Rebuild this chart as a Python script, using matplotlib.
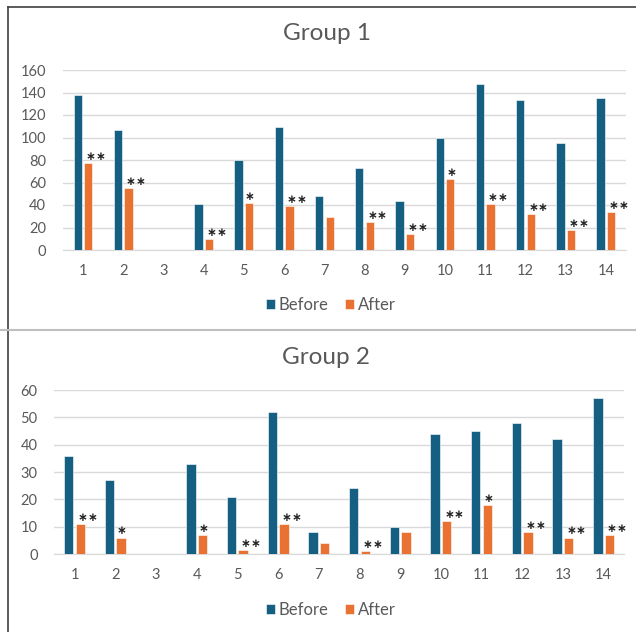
import matplotlib
matplotlib.use('Agg')
import matplotlib.pyplot as plt
import numpy as np

plt.rcParams['font.family'] = ['Lato', 'DejaVu Sans']

CATEGORIES = [str(i) for i in range(1, 15)]

# Group 1
G1_BEFORE = [138, 107, 0, 41, 80, 109, 48, 73, 44, 100, 148, 133, 95, 135]
G1_AFTER  = [77, 55, 0, 10, 42, 39, 29, 25, 14, 63, 41, 32, 18, 34]
G1_SIG    = ['**', '**', '', '**', '*', '**', '', '**', '**', '*', '**', '**', '**', '**']

# Group 2
G2_BEFORE = [36, 27, 0, 33, 21, 52, 8, 24, 10, 44, 45, 48, 42, 57]
G2_AFTER  = [11, 6, 0, 7, 1.5, 11, 4, 1, 8, 12, 18, 8, 6, 7]
G2_SIG    = ['**', '*', '', '*', '**', '**', '', '**', '', '**', '*', '**', '**', '**']

BLUE = '#156082'
ORANGE = '#E97132'
GRID = '#D9D9D9'
TXT = '#595959'

W, H = 636, 632
fig = plt.figure(figsize=(W / 100, H / 100), dpi=100)


def draw_group(rect, title, title_xy, legend_y, before, after, sig, ymax, ystep,
               bw, off, star_off):
    ax = fig.add_axes(rect)
    x = np.arange(len(CATEGORIES))
    ax.bar(x - off, before, bw, color=BLUE, label='Before', zorder=3,
           edgecolor='white', linewidth=0.4)
    ax.bar(x + off, after, bw, color=ORANGE, label='After', zorder=3,
           edgecolor='white', linewidth=0.4)
    # significance stars, one text per star
    for xi, val, s in zip(x, after, sig):
        if s == '**':
            dxs = [0.06, 0.30]
        elif s == '*':
            dxs = [0.02]
        else:
            dxs = []
        for dx in dxs:
            ax.text(xi + off + dx, val + star_off, '\u2217', ha='center', va='center',
                    fontsize=8.5, fontweight='bold', color='#262626',
                    family='DejaVu Sans', zorder=4)
    ax.set_xlim(-0.5, len(CATEGORIES) - 0.5)
    ax.set_ylim(0, ymax)
    ax.set_yticks(np.arange(0, ymax + 1, ystep))
    ax.set_xticks(x)
    ax.set_xticklabels(CATEGORIES)
    ax.grid(axis='y', color=GRID, linewidth=1, zorder=0)
    for sp in ['top', 'right', 'left']:
        ax.spines[sp].set_visible(False)
    ax.spines['bottom'].set_color(GRID)
    ax.tick_params(length=0, colors=TXT, labelsize=10.5)
    ax.tick_params(axis='x', pad=10)
    ax.tick_params(axis='y', pad=12)
    fig.text(title_xy[0], title_xy[1], title, ha='center', va='center',
             fontsize=17.5, color=TXT)
    ax.legend(loc='center', bbox_to_anchor=(331 / W, legend_y), bbox_transform=fig.transFigure,
              ncol=2, frameon=False, fontsize=12, handlelength=0.5, handleheight=0.5,
              handletextpad=0.25, columnspacing=1.0, labelcolor=TXT)
    return ax


draw_group([62.9 / W, 1 - 250 / H, 563.1 / W, 180 / H], 'Group 1', (327 / W, 1 - 33 / H),
           1 - 305 / H, G1_BEFORE, G1_AFTER, G1_SIG, 160, 20, 0.206, 0.132, 5.9)
draw_group([54.2 / W, 1 - 554 / H, 569.8 / W, 164 / H], 'Group 2', (326 / W, 1 - 358 / H),
           1 - 610 / H, G2_BEFORE, G2_AFTER, G2_SIG, 60, 10, 0.23, 0.143, 2.45)

# chart borders
fig.add_artist(plt.Line2D([7.5 / W, 7.5 / W], [1 - 7 / H, 0], transform=fig.transFigure,
                          color='#404040', linewidth=1.2))
fig.add_artist(plt.Line2D([7.5 / W, 1], [1 - 7 / H, 1 - 7 / H], transform=fig.transFigure,
                          color='#404040', linewidth=1.2))
fig.add_artist(plt.Line2D([0, 1], [1 - 330 / H, 1 - 330 / H], transform=fig.transFigure,
                          color='#BFBFBF', linewidth=1.5))

fig.savefig('out.png', dpi=100)
